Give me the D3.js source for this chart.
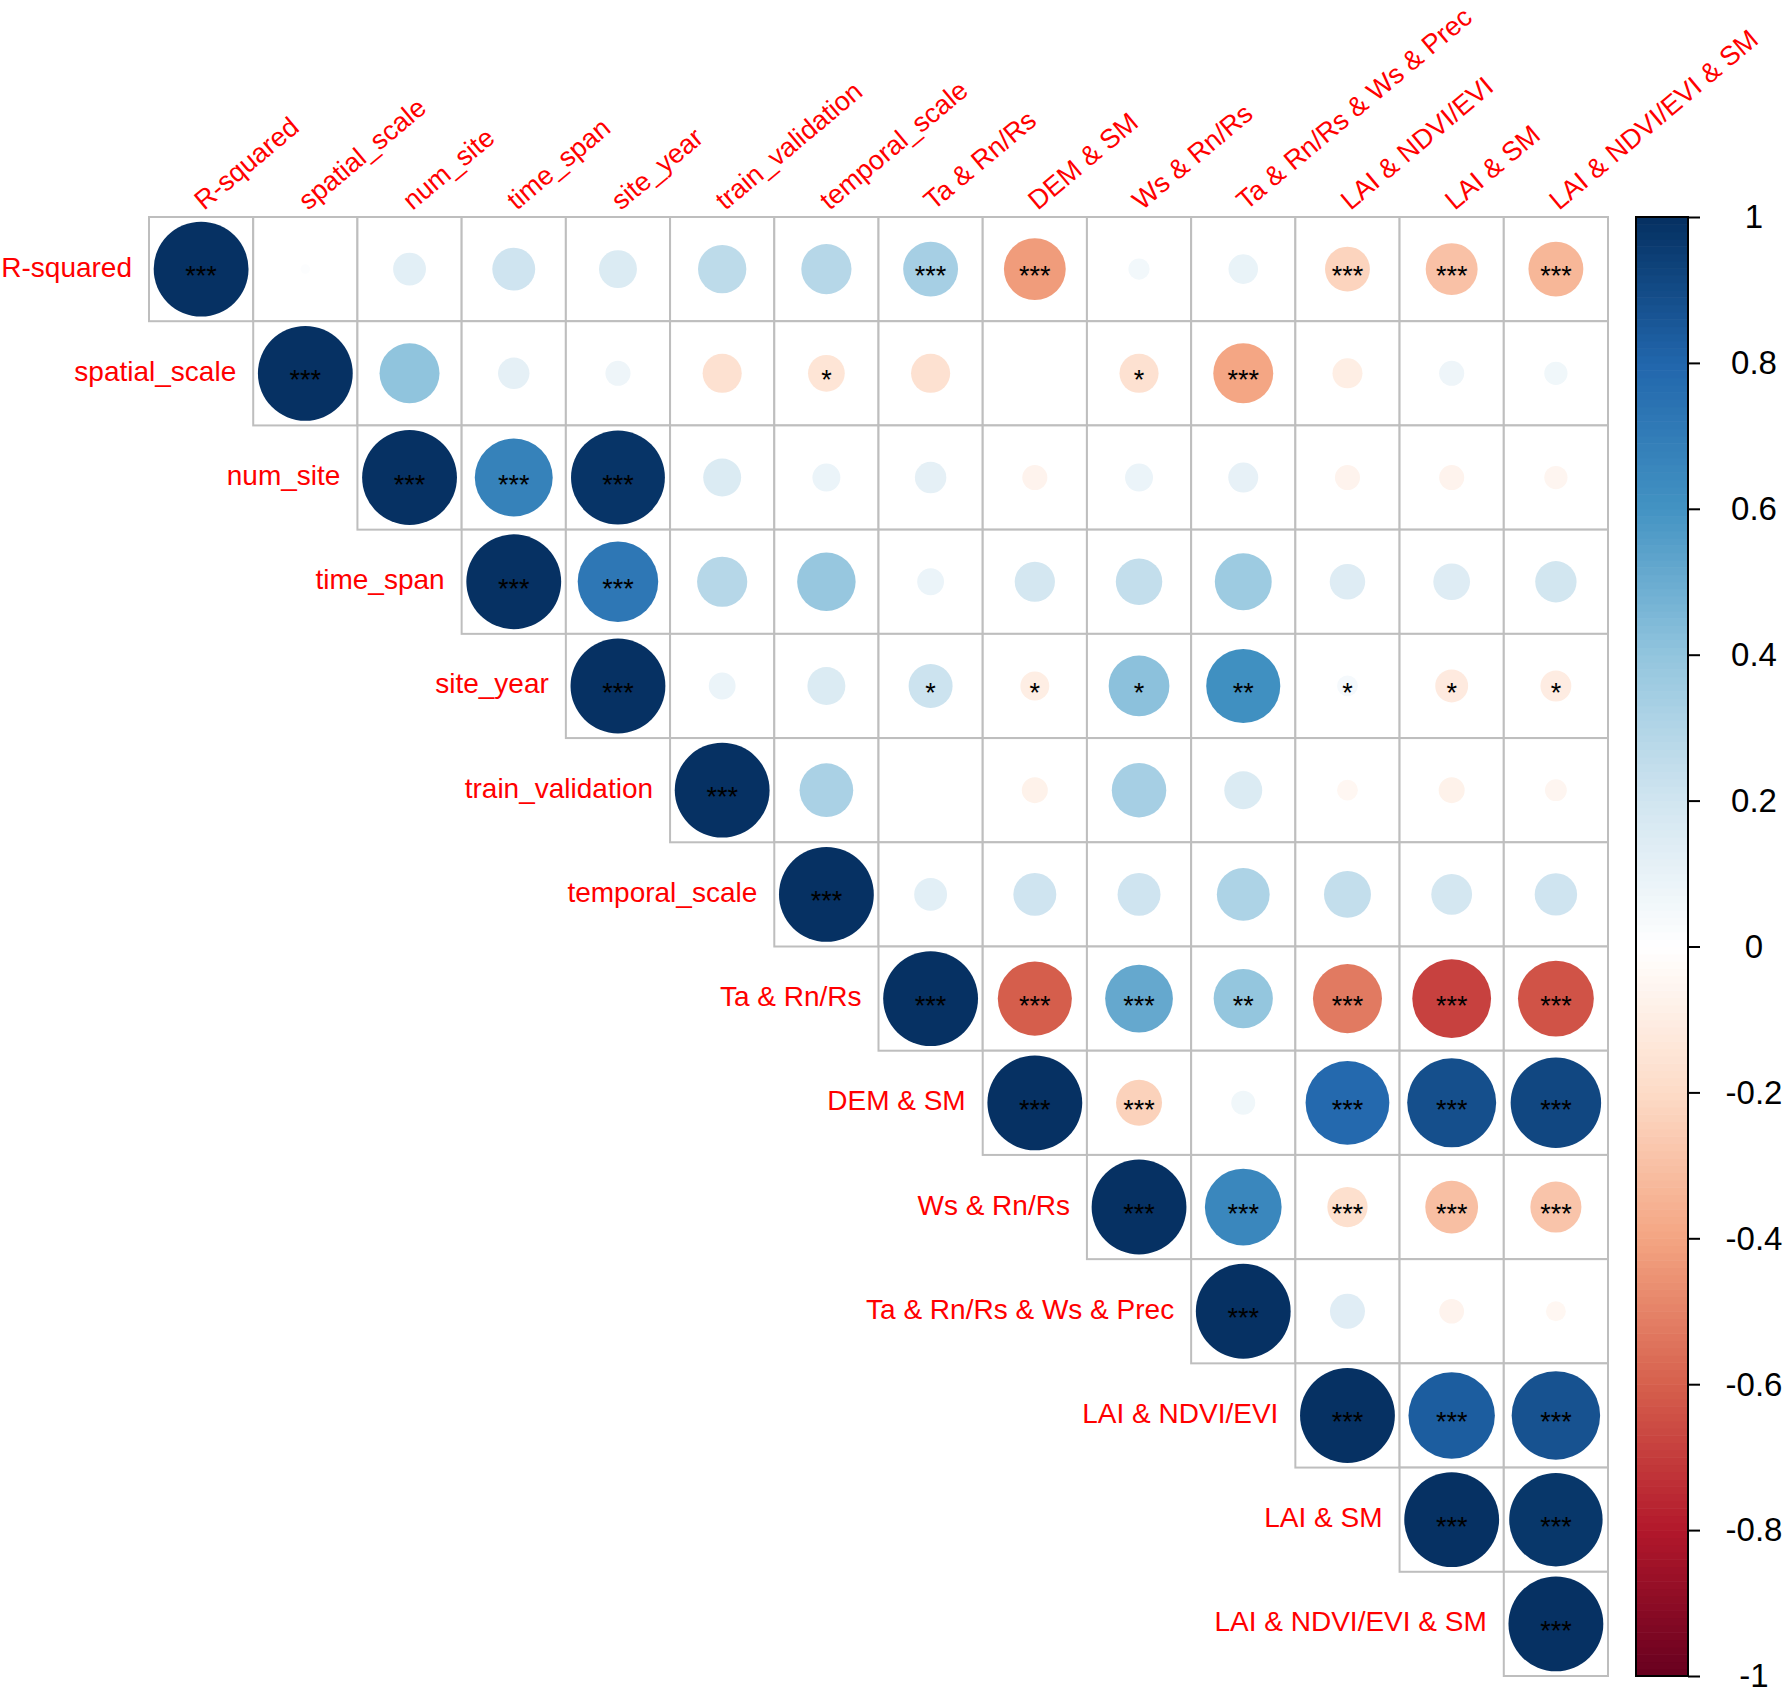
<!DOCTYPE html>
<html>
<head>
<meta charset="utf-8">
<script src="https://cdn.jsdelivr.net/npm/d3@7"></script>
<style>
  body { margin: 0; background: #fff; }
  svg { display: block; font-family: "Liberation Sans", Arial, sans-serif; }
</style>
</head>
<body>
<div id="chart"></div>
<script>
// variable names (rows and columns of the matrix)
const variables = ["R-squared", "spatial_scale", "num_site", "time_span", "site_year",
  "train_validation", "temporal_scale", "Ta & Rn/Rs", "DEM & SM", "Ws & Rn/Rs",
  "Ta & Rn/Rs & Ws & Prec", "LAI & NDVI/EVI", "LAI & SM", "LAI & NDVI/EVI & SM"];

// upper triangle of the correlation matrix, row i holds columns i..13
const corrRows = [
  [1, 0.01, 0.12, 0.205, 0.16, 0.26, 0.28, 0.335, -0.425, 0.05, 0.097, -0.224, -0.30, -0.335],
  [1, 0.40, 0.11, 0.07, -0.17, -0.15, -0.17, 0.0, -0.17, -0.40, -0.10, 0.07, 0.06],
  [1, 0.675, 0.98, 0.16, 0.087, 0.11, -0.07, 0.087, 0.10, -0.07, -0.07, -0.06],
  [1, 0.72, 0.28, 0.38, 0.08, 0.18, 0.24, 0.36, 0.14, 0.15, 0.19],
  [1, 0.08, 0.16, 0.215, -0.093, 0.41, 0.61, 0.048, -0.12, -0.106],
  [1, 0.32, 0.0, -0.075, 0.33, 0.16, -0.048, -0.075, -0.053],
  [1, 0.12, 0.205, 0.205, 0.31, 0.245, 0.185, 0.20],
  [1, -0.61, 0.51, 0.39, -0.53, -0.69, -0.64],
  [1, -0.235, 0.064, 0.78, 0.88, 0.91],
  [1, 0.655, -0.18, -0.31, -0.29],
  [1, 0.136, -0.068, -0.044],
  [1, 0.83, 0.87],
  [1, 0.97],
  [1]
];

// significance stars, same layout as corrRows
const sigRows = [
  ["***", "", "", "", "", "", "", "***", "***", "", "", "***", "***", "***"],
  ["***", "", "", "", "", "*", "", "", "*", "***", "", "", ""],
  ["***", "***", "***", "", "", "", "", "", "", "", "", ""],
  ["***", "***", "", "", "", "", "", "", "", "", ""],
  ["***", "", "", "*", "*", "*", "**", "*", "*", "*"],
  ["***", "", "", "", "", "", "", "", ""],
  ["***", "", "", "", "", "", "", ""],
  ["***", "***", "***", "**", "***", "***", "***"],
  ["***", "***", "", "***", "***", "***"],
  ["***", "***", "***", "***", "***"],
  ["***", "", "", ""],
  ["***", "***", "***"],
  ["***", "***"],
  ["***"]
];

// colour legend ticks
const legendTicks = [1, 0.8, 0.6, 0.4, 0.2, 0, -0.2, -0.4, -0.6, -0.8, -1];
const legendLabels = ["1", "0.8", "0.6", "0.4", "0.2", "0", "-0.2", "-0.4", "-0.6", "-0.8", "-1"];

// RdBu palette as used by corrplot
const palette = ["#67001F", "#B2182B", "#D6604D", "#F4A582", "#FDDBC7", "#FFFFFF",
  "#D1E5F0", "#92C5DE", "#4393C3", "#2166AC", "#053061"];

const width = 1785, height = 1689;
const gridLeft = 149, gridRight = 1608, gridTop = 217, gridBottom = 1676;

const svg = d3.select("#chart").append("svg")
  .attr("width", width)
  .attr("height", height);

svg.append("rect").attr("width", width).attr("height", height).attr("fill", "#fff");

const x = d3.scaleBand().domain(variables).range([gridLeft, gridRight]);
const y = d3.scaleBand().domain(variables).range([gridTop, gridBottom]);
const cell = x.bandwidth();

const colorRamp = d3.scaleLinear()
  .domain(d3.range(11).map(i => -1 + i * 0.2))
  .range(palette)
  .interpolate(d3.interpolateRgb);

// corrplot uses 200 discrete colours
function colorOf(v) {
  const bin = Math.max(0, Math.min(199, Math.floor((v + 1) / 2 * 200)));
  return colorRamp(-1 + (bin + 0.5) * 0.01);
}

const radius = d3.scaleSqrt().domain([0, 1]).range([0, 0.455 * cell]);

// flatten upper triangle into cells
const cells = [];
corrRows.forEach((row, i) => {
  row.forEach((v, k) => {
    const j = i + k;
    cells.push({ row: variables[i], col: variables[j], value: v, sig: sigRows[i][k] });
  });
});

// grid cells
svg.append("g")
  .selectAll("rect")
  .data(cells)
  .enter()
  .append("rect")
  .attr("x", d => x(d.col))
  .attr("y", d => y(d.row))
  .attr("width", cell)
  .attr("height", cell)
  .attr("fill", "#fff")
  .attr("stroke", "#bebebe")
  .attr("stroke-width", 2);

// circles
svg.append("g")
  .selectAll("circle")
  .data(cells)
  .enter()
  .append("circle")
  .attr("cx", d => x(d.col) + cell / 2)
  .attr("cy", d => y(d.row) + cell / 2)
  .attr("r", d => radius(Math.abs(d.value)))
  .attr("fill", d => colorOf(d.value));

// significance stars
svg.append("g")
  .selectAll("text")
  .data(cells.filter(d => d.sig))
  .enter()
  .append("text")
  .attr("x", d => x(d.col) + cell / 2)
  .attr("y", d => y(d.row) + cell / 2 + 16)
  .attr("text-anchor", "middle")
  .attr("font-size", 27)
  .attr("fill", "#000")
  .text(d => d.sig);

// row labels
svg.append("g")
  .selectAll("text")
  .data(variables)
  .enter()
  .append("text")
  .attr("x", d => x(d) - 17)
  .attr("y", d => y(d) + cell / 2 + 7.5)
  .attr("text-anchor", "end")
  .attr("font-size", 28)
  .attr("fill", "#ff0000")
  .text(d => d);

// column labels, rotated
svg.append("g")
  .selectAll("text")
  .data(variables)
  .enter()
  .append("text")
  .attr("transform", d => `translate(${x(d) + cell / 2 + 3},${gridTop - 6}) rotate(-40)`)
  .attr("text-anchor", "start")
  .attr("font-size", 27)
  .attr("fill", "#ff0000")
  .text(d => d);

// colour legend
const barLeft = 1636, barWidth = 52;
const legendScale = d3.scaleLinear().domain([-1, 1]).range([gridBottom, gridTop]);
const bins = d3.range(200);
const binH = (gridBottom - gridTop) / 200;

svg.append("g")
  .selectAll("rect")
  .data(bins)
  .enter()
  .append("rect")
  .attr("x", barLeft)
  .attr("y", b => legendScale(-1 + (b + 1) * 0.01))
  .attr("width", barWidth)
  .attr("height", binH + 0.6)
  .attr("fill", b => colorRamp(-1 + (b + 0.5) * 0.01));

svg.append("rect")
  .attr("x", barLeft)
  .attr("y", gridTop)
  .attr("width", barWidth)
  .attr("height", gridBottom - gridTop)
  .attr("fill", "none")
  .attr("stroke", "#000")
  .attr("stroke-width", 2);

const axis = svg.append("g")
  .attr("transform", `translate(${barLeft + barWidth},0)`)
  .call(d3.axisRight(legendScale)
    .tickValues(legendTicks)
    .tickSize(12)
    .tickFormat((d, i) => legendLabels[i]));

axis.select(".domain").remove();
axis.selectAll(".tick line").attr("stroke", "#000").attr("stroke-width", 2);
axis.selectAll(".tick text")
  .attr("x", 66)
  .attr("dy", "0.33em")
  .attr("text-anchor", "middle")
  .attr("font-size", 33)
  .attr("font-family", "'Liberation Sans', Arial, sans-serif")
  .attr("fill", "#000");
</script>
</body>
</html>
